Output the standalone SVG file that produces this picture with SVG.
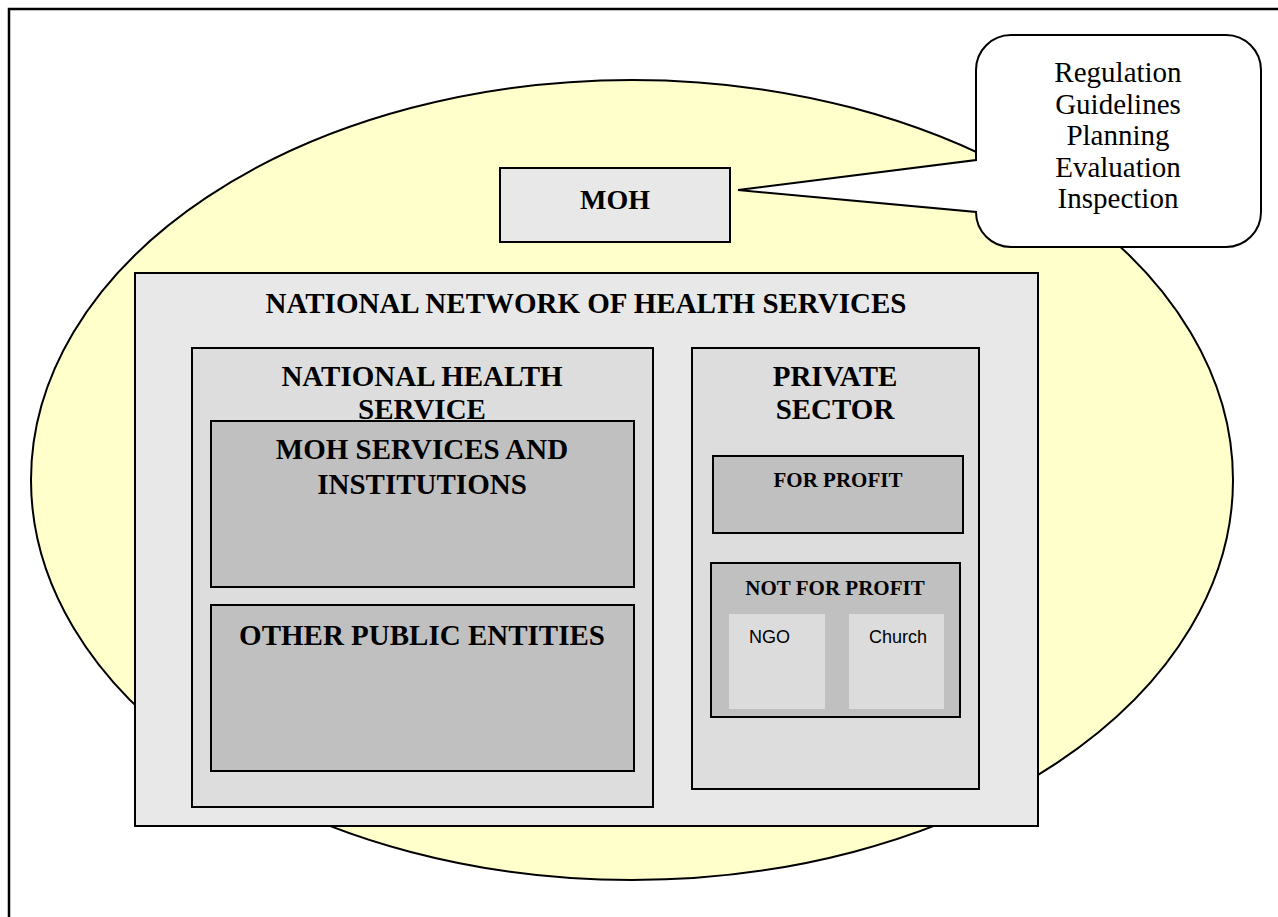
<svg xmlns="http://www.w3.org/2000/svg" width="1278" height="917" viewBox="0 0 1278 917">
<style>
.box{stroke:#000;stroke-width:2}
.l1{fill:#e8e8e8}
.l2{fill:#dddddd}
.l3{fill:#c0c0c0}
.l4{fill:#dcdcdc}
.h{font-family:"Liberation Serif","Times New Roman",serif;font-weight:bold;fill:#000;text-anchor:middle}
.big{font-size:29px}
.small{font-size:21px}
.reg{font-family:"Liberation Serif","Times New Roman",serif;font-size:29px;fill:#000;text-anchor:middle}
.sans{font-family:"Liberation Sans",Arial,sans-serif;font-size:18px;fill:#000}
</style>
<rect width="1278" height="917" fill="#fff"/>
<path d="M9,917 V9 H1278" fill="none" stroke="#000" stroke-width="2.5"/>
<ellipse id="sphere" cx="632" cy="480" rx="601" ry="400" fill="#ffffcc" stroke="#000" stroke-width="2"/>
<g id="moh">
<rect class="box l1" x="500" y="168" width="230" height="74"/>
<text class="h" x="615" y="209" font-size="28">MOH</text>
</g>
<g id="callout">
<path d="M1011,35 H1226 A35,35 0 0 1 1261,70 V212 A35,35 0 0 1 1226,247 H1011 A35,35 0 0 1 976,212 L738,190 L976,160 V70 A35,35 0 0 1 1011,35 Z" fill="#fff" stroke="#000" stroke-width="2"/>
<text class="reg" x="1118" y="82">Regulation</text>
<text class="reg" x="1118" y="113.5">Guidelines</text>
<text class="reg" x="1118" y="145">Planning</text>
<text class="reg" x="1118" y="176.5">Evaluation</text>
<text class="reg" x="1118" y="208">Inspection</text>
</g>
<g id="network">
<rect class="box l1" x="135" y="273" width="903" height="553"/>
<text class="h big" x="586" y="313" font-size="29.5">NATIONAL NETWORK OF HEALTH SERVICES</text>
</g>
<g id="nhs">
<rect class="box l2" x="192" y="348" width="461" height="459"/>
<text class="h big" x="422" y="386">NATIONAL HEALTH</text>
<text class="h big" x="422" y="419">SERVICE</text>
</g>
<g id="moh-services">
<rect class="box l3" x="211" y="421" width="423" height="166"/>
<text class="h big" x="422" y="459">MOH SERVICES AND</text>
<text class="h big" x="422" y="494">INSTITUTIONS</text>
</g>
<g id="other-public">
<rect class="box l3" x="211" y="605" width="423" height="166"/>
<text class="h big" x="422" y="645">OTHER PUBLIC ENTITIES</text>
</g>
<g id="private">
<rect class="box l2" x="692" y="348" width="287" height="441"/>
<text class="h big" x="835" y="386">PRIVATE</text>
<text class="h big" x="835" y="419">SECTOR</text>
</g>
<g id="for-profit">
<rect class="box l3" x="713" y="456" width="250" height="77"/>
<text class="h small" x="838" y="487">FOR PROFIT</text>
</g>
<g id="not-for-profit">
<rect class="box l3" x="711" y="563" width="249" height="154"/>
<text class="h small" x="835" y="595">NOT FOR PROFIT</text>
</g>
<g id="ngo">
<rect class="l4" x="729" y="614" width="96" height="95"/>
<text class="sans" x="749" y="643">NGO</text>
</g>
<g id="church">
<rect class="l4" x="849" y="614" width="95" height="95"/>
<text class="sans" x="869" y="643">Church</text>
</g>
<g id="connectors"></g>
</svg>
